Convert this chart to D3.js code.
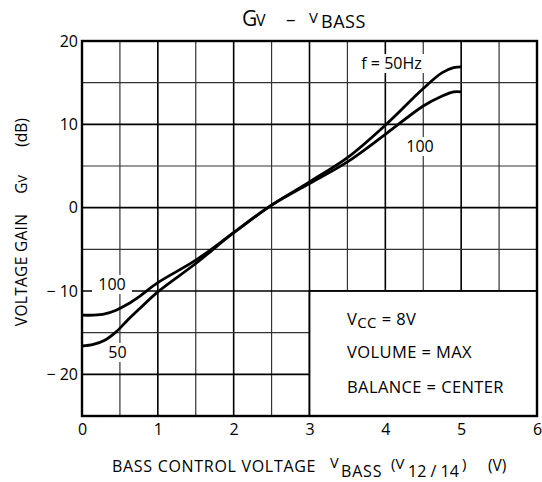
<!DOCTYPE html>
<html>
<head>
<meta charset="utf-8">
<script src="https://cdn.jsdelivr.net/npm/d3@7"></script>
<style>
  body { margin: 0; background: #fff; }
  svg { display: block; }
  text { font-family: "Open Sans", "Noto Sans", sans-serif; fill: #000; white-space: pre; font-weight: 500; }
</style>
</head>
<body>
<svg id="chart" width="542" height="482"></svg>
<script>
// ---- data ----
const xTicks = [0, 1, 2, 3, 4, 5, 6];
const yTicks = [20, 10, 0, -10, -20];
const yTickLabels = ["20", "10", "0", "\u2212 10", "\u2212 20"];
const xGrid = [0.5, 1, 1.5, 2, 2.5, 3, 3.5, 4, 4.5, 5, 5.5];
const yGrid = [15, 10, 5, 0, -5, -10, -15, -20];
const vBass   = [0, 0.15, 0.3, 0.45, 0.6, 0.75, 1, 1.5, 2, 2.5, 3, 3.5, 4, 4.5, 4.75, 4.9, 5];
const gain50  = [-16.6, -16.4, -15.9, -14.9, -13.5, -12.2, -10.1, -6.7, -3.0, 0.3, 3.1, 6.0, 9.9, 14.3, 16.2, 16.8, 16.9];
const gain100 = [-12.9, -12.9, -12.75, -12.3, -11.6, -10.7, -9.0, -6.3, -3.0, 0.3, 2.9, 5.5, 8.8, 12.2, 13.4, 13.9, 13.9];

// ---- layout ----
const svg = d3.select("#chart");
const x = d3.scaleLinear().domain([0, 6]).range([82, 537]);
const y = d3.scaleLinear().domain([-25, 20]).range([416, 41]);

// grid
const g = svg.append("g");
xGrid.forEach(v => {
  g.append("line").attr("x1", x(v)).attr("x2", x(v)).attr("y1", y(20)).attr("y2", y(-25))
    .attr("stroke", Number.isInteger(v) ? "#000" : "#333").attr("stroke-width", Number.isInteger(v) ? 1.6 : 1.2);
});
yGrid.forEach(v => {
  g.append("line").attr("x1", x(0)).attr("x2", x(6)).attr("y1", y(v)).attr("y2", y(v))
    .attr("stroke", v % 10 === 0 ? "#000" : "#333").attr("stroke-width", v % 10 === 0 ? 1.6 : 1.2);
});

// condition box
svg.append("rect").attr("x", x(3)).attr("y", y(-10)).attr("width", x(6) - x(3)).attr("height", y(-25) - y(-10))
  .attr("fill", "#fff").attr("stroke", "#000").attr("stroke-width", 1.8);

// frame
svg.append("rect").attr("x", x(0)).attr("y", y(20)).attr("width", x(6) - x(0)).attr("height", y(-25) - y(20))
  .attr("fill", "none").attr("stroke", "#000").attr("stroke-width", 2.4);

// axes (labels only)
const xAxis = d3.axisBottom(x).tickValues(xTicks).tickSize(0).tickPadding(8).tickFormat(d3.format("d"));
const xa = svg.append("g").attr("transform", `translate(0,${y(-25)})`).call(xAxis);
xa.select(".domain").remove();
xa.selectAll("text").style("font-size", "16px").style("font-family", '"Open Sans", sans-serif').style("font-weight", 500);

const yAxis = d3.axisLeft(y).tickValues(yTicks).tickSize(0).tickPadding(4).tickFormat((d, i) => yTickLabels[i]);
const ya = svg.append("g").attr("transform", `translate(${x(0)},0)`).call(yAxis);
ya.select(".domain").remove();
ya.selectAll("text").style("font-size", "16px").style("font-family", '"Open Sans", sans-serif').style("font-weight", 500);

// labels with white backgrounds (drawn before curves)
function bgLabel(txt, cx, base, w) {
  svg.append("rect").attr("x", cx - w / 2).attr("y", base - 15).attr("width", w).attr("height", 19).attr("fill", "#fff");
  svg.append("text").attr("x", cx).attr("y", base).attr("text-anchor", "middle")
    .style("font-size", "16px").text(txt);
}
bgLabel("f = 50Hz", 391.5, 69, 70);
bgLabel("100", 420, 152, 38);
bgLabel("100", 112, 290, 40);
bgLabel("50", 117.5, 358, 28);

// curves
const line = d3.line().x(d => x(d[0])).y(d => y(d[1])).curve(d3.curveCatmullRom.alpha(0.5));
[gain50, gain100].forEach(s => {
  svg.append("path").datum(vBass.map((v, i) => [v, s[i]])).attr("d", line)
    .attr("fill", "none").attr("stroke", "#000").attr("stroke-width", 2.8).attr("stroke-linejoin", "round");
});

// title
svg.append("text").attr("x", 242).attr("y", 26).style("font-size", "21px").text("G");
svg.append("text").attr("x", 256).attr("y", 26).style("font-size", "16px").text("V");
svg.append("text").attr("x", 286).attr("y", 26).style("font-size", "19px").text("\u2013");
svg.append("text").attr("x", 309).attr("y", 22.5).style("font-size", "15px").text("V");
svg.append("text").attr("x", 321).attr("y", 28).style("font-size", "18px").style("letter-spacing", "0.5px").text("BASS");

// condition text
const condStyle = sel => sel.style("font-size", "16.5px").style("letter-spacing", "0.4px");
const c1 = svg.append("text").attr("x", 347).attr("y", 325).call(condStyle);
c1.append("tspan").text("V");
c1.append("tspan").attr("dy", 3).style("font-size", "15px").text("CC");
c1.append("tspan").attr("dy", -3).text(" = 8V");
svg.append("text").attr("x", 347).attr("y", 358).call(condStyle).text("VOLUME = MAX");
svg.append("text").attr("x", 347).attr("y", 393).call(condStyle).text("BALANCE = CENTER");

// x title
const xs = sel => sel.style("font-size", "16px").style("letter-spacing", "0.7px");
svg.append("text").attr("x", 112).attr("y", 472).call(xs).text("BASS CONTROL VOLTAGE");
svg.append("text").attr("x", 330).attr("y", 468).style("font-size", "14.5px").text("V");
svg.append("text").attr("x", 341).attr("y", 477).style("font-size", "16px").style("letter-spacing", "0.8px").text("BASS");
svg.append("text").attr("x", 391).attr("y", 469).style("font-size", "15px").text("(V");
svg.append("text").attr("x", 408).attr("y", 477).style("font-size", "16px").text("12 / 14");
svg.append("text").attr("x", 462).attr("y", 469).style("font-size", "15px").text(")");
svg.append("text").attr("x", 488).attr("y", 471).style("font-size", "15.5px").text("(V)");

// y title
function yTitle(cy) {
  return svg.append("text").attr("transform", `translate(27,${cy}) rotate(-90)`).attr("text-anchor", "middle").style("font-size", "15.5px");
}
yTitle(270).style("letter-spacing", "0.3px").text("VOLTAGE GAIN");
const gv = yTitle(184.5);
gv.append("tspan").text("G");
gv.append("tspan").style("font-size", "12.5px").text("V");
yTitle(132.5).text("(dB)");
</script>
</body>
</html>
